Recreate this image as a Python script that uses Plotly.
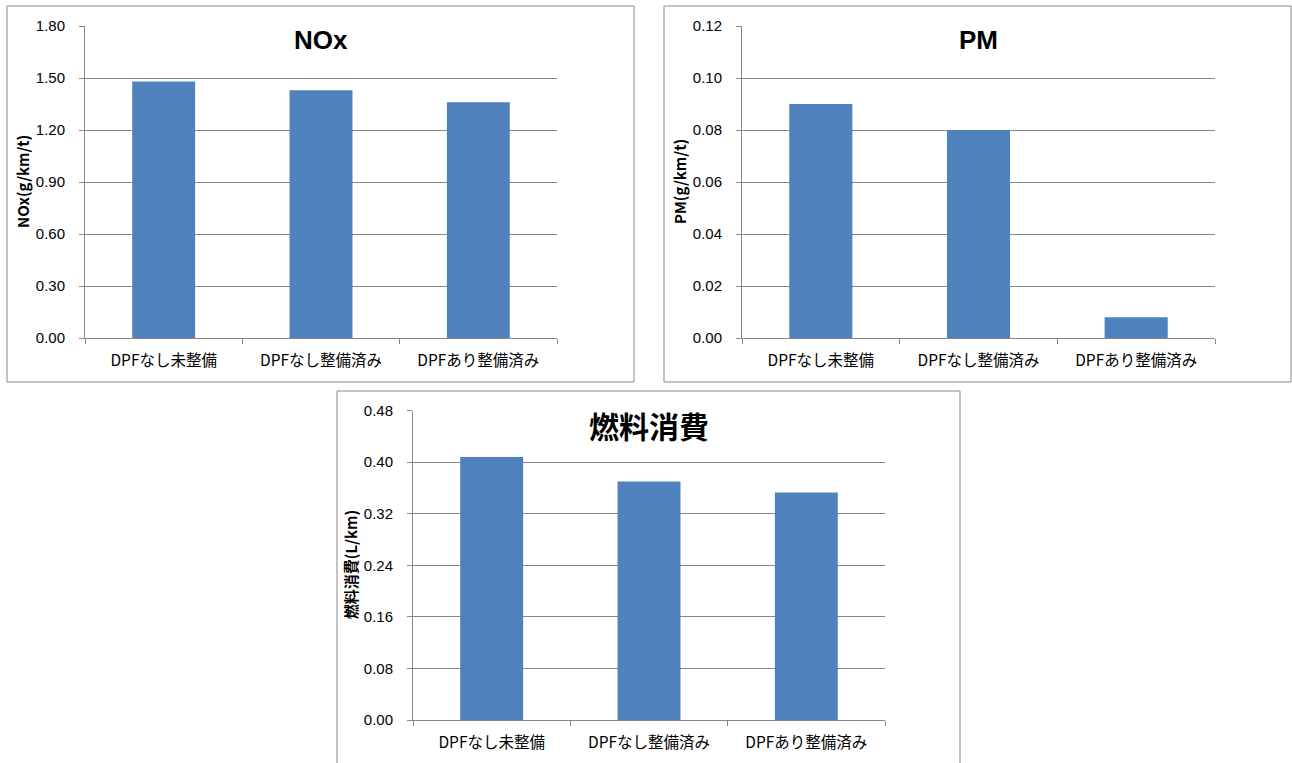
import plotly.graph_objects as go

W, H = 1292, 763

categories = ["DPFなし未整備", "DPFなし整備済み", "DPFあり整備済み"]
nox_values = [1.48, 1.43, 1.36]
pm_values = [0.090, 0.080, 0.008]
fuel_values = [0.408, 0.370, 0.353]

nox_ticks = [0.0, 0.3, 0.6, 0.9, 1.2, 1.5, 1.8]
pm_ticks = [0.0, 0.02, 0.04, 0.06, 0.08, 0.10, 0.12]
fuel_ticks = [0.0, 0.08, 0.16, 0.24, 0.32, 0.40, 0.48]

BAR = "#4F81BD"
GRID = "#898989"
NUM_FONT = "Liberation Sans, Arial, sans-serif"
JP_FONT = "Noto Sans CJK JP, sans-serif"


def px_x(x):
    return x / W


def px_y(y):
    return 1 - y / H


panels = [
    # (values, ticks, title, title font, title size, y title, plot box px: x0, x1, ytop, ybottom)
    (nox_values, nox_ticks, "NOx", NUM_FONT, 26, "NOx(g/km/t)", (85, 557, 26, 338)),
    (pm_values, pm_ticks, "PM", NUM_FONT, 26, "PM(g/km/t)", (742, 1215, 26, 338)),
    (fuel_values, fuel_ticks, "燃料消費", JP_FONT, 30, "燃料消費(L/km)", (413, 885, 410.5, 720)),
]

fig = go.Figure()
annotations = []

for i, (vals, ticks, title, tfont, tsize, ytitle, (x0, x1, yt, yb)) in enumerate(panels):
    n = "" if i == 0 else str(i + 1)
    fig.add_trace(go.Bar(
        x=categories, y=vals, marker=dict(color=BAR, line=dict(width=0)),
        xaxis="x" + n, yaxis="y" + n, showlegend=False,
    ))
    fig.update_layout(**{
        "xaxis" + n: dict(
            domain=[px_x(x0), px_x(x1)], anchor="y" + n, automargin=False,
            type="category", showline=True, linecolor=GRID, linewidth=1,
            ticks="outside", tickson="boundaries", ticklen=5, tickcolor=GRID,
            ticklabelstandoff=8,
            showgrid=False, tickfont=dict(family=JP_FONT, size=15.5, color="#000"),
            fixedrange=True,
        ),
        "yaxis" + n: dict(
            domain=[px_y(yb), px_y(yt)], anchor="x" + n, automargin=False,
            range=[ticks[0], ticks[-1]], tickvals=ticks,
            ticktext=["%.2f" % t for t in ticks],
            showline=True, linecolor=GRID, linewidth=1,
            ticks="outside", ticklen=5, tickcolor=GRID, ticklabelstandoff=11,
            showgrid=True, gridcolor=GRID, gridwidth=1, zeroline=False,
            tickfont=dict(family=NUM_FONT, size=15, color="#000"),
            fixedrange=True,
        ),
    })
    annotations.append(dict(
        text="<b>%s</b>" % title, xref="paper", yref="paper",
        x=px_x((x0 + x1) / 2), y=px_y(yt + 14), xanchor="center", yanchor="middle",
        showarrow=False, font=dict(family=tfont, size=tsize, color="#000"),
    ))
    annotations.append(dict(
        text="<b>%s</b>" % ytitle, xref="paper", yref="paper", textangle=-90,
        x=px_x(x0 - 63), y=px_y((yt + yb) / 2), xanchor="center", yanchor="middle",
        showarrow=False, font=dict(family=JP_FONT, size=15, color="#000"),
    ))

# chart area frames
frame = dict(type="line", xref="paper", yref="paper", line=dict(color=GRID, width=1))
shapes = []
for (bx0, by0, bx1, by1) in [(7, 6, 634, 382), (664, 6, 1291, 382)]:
    shapes.append(dict(type="rect", xref="paper", yref="paper",
                       x0=px_x(bx0), x1=px_x(bx1), y0=px_y(by1), y1=px_y(by0),
                       line=dict(color=GRID, width=1)))
shapes.append(dict(frame, x0=px_x(337), x1=px_x(337), y0=px_y(391), y1=0))
shapes.append(dict(frame, x0=px_x(960), x1=px_x(960), y0=px_y(391), y1=0))
shapes.append(dict(frame, x0=px_x(337), x1=px_x(960), y0=px_y(391), y1=px_y(391)))

fig.update_layout(
    width=W, height=H, margin=dict(l=0, r=0, t=0, b=0, autoexpand=False),
    paper_bgcolor="white", plot_bgcolor="white",
    bargap=0.6, annotations=annotations, shapes=shapes,
)

fig.write_html("out.html")
